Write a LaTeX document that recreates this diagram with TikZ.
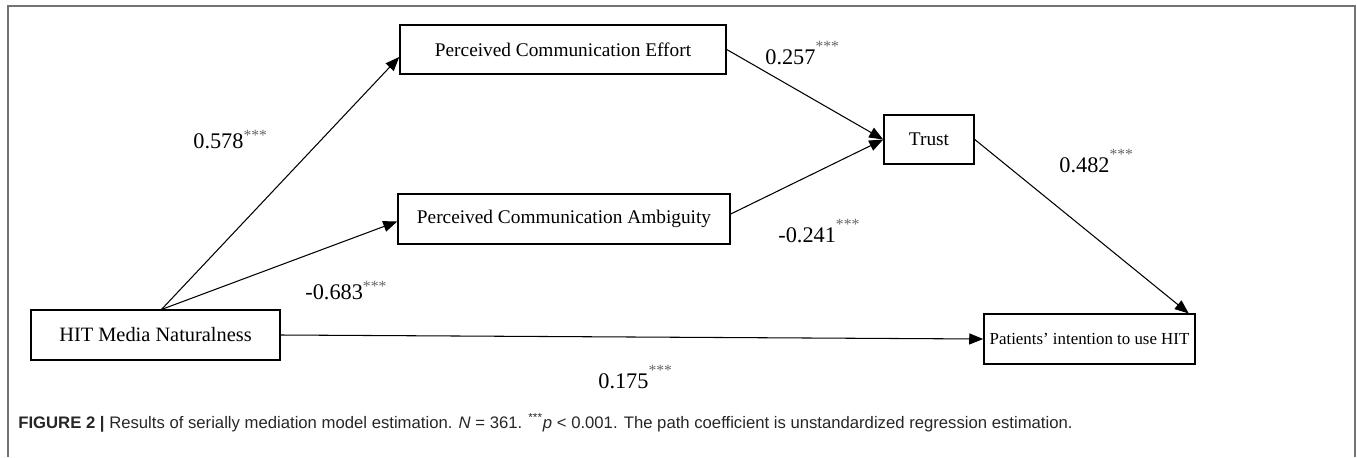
\documentclass[tikz,border=0pt]{standalone}
\usepackage{amsmath}
\usepackage{xcolor}
\usepackage{fontspec}
\setmainfont{Liberation Serif}
\newfontfamily\capfont{Liberation Sans}
\usepackage{tikz}
\usetikzlibrary{arrows.meta,positioning,calc}

\newcommand{\stars}[1][0pt]{\raisebox{#1}{\textsuperscript{\color{black!60}***}}}

\begin{document}
\begin{tikzpicture}[
    x=0.02cm, y=-0.02cm,
    box/.style={rectangle, draw=black, line width=0.9pt, align=center, inner sep=0pt, minimum height=0.99cm, font=\fontsize{11}{13}\selectfont},
    coef/.style={anchor=base west, inner sep=0pt, font=\fontsize{12.7}{14}\selectfont},
    arr/.style={-{Triangle[length=0.28cm,width=0.22cm]}, line width=0.6pt, draw=black},
    frame/.style={draw=black!55, line width=1.1pt}
]
    \useasboundingbox (0,0) rectangle (1357,457);
    \draw [frame] (8,457) -- (8,6) -- (1355,6) -- (1355,457);

    % boxes
    \node [box, minimum width=6.52cm] (eff) at (563,49.5) {Perceived Communication Effort};
    \node [box, minimum width=6.64cm] (amb) at (564,219) {Perceived Communication Ambiguity};
    \node [box, minimum width=1.80cm] (trust) at (929,139.5) {Trust};
    \node [box, minimum width=4.98cm, font=\fontsize{11.6}{13}\selectfont] (hit) at (155.5,335) {HIT Media Naturalness};
    \node [box, minimum width=4.22cm, font=\fontsize{9.6}{12}\selectfont] (pat) at (1089.5,339) {Patients' intention to use HIT};

    % paths
    \draw [arr] ([xshift=0.12cm]hit.north) -- ([yshift=-0.15cm]eff.west);
    \draw [arr] ([xshift=0.12cm]hit.north) -- ([yshift=-0.05cm]amb.west);
    \draw [arr] (eff.east) -- (trust.west);
    \draw [arr] ([yshift=0.1cm]amb.east) -- (trust.west);
    \draw [arr] (trust.east) -- ([xshift=-0.14cm]pat.north east);
    \draw [arr] (hit.east) -- (pat.west);

    % coefficients
    \node [coef] (c1) at (193,148) {0.578\stars};
    \node [coef] (c2) at (305,299) {-0.683\stars};
    \node [coef] (c3) at (765,64) {0.257\stars[3pt]};
    \node [coef] (c4) at (778,242) {-0.241\stars[3pt]};
    \node [coef] (c5) at (1059,172) {0.482\stars[3pt]};
    \node [coef] (c6) at (598,388) {0.175\stars[3pt]};

    % caption
    \node [anchor=base west, inner sep=0pt, text=black!85, font=\capfont\fontsize{9.5}{11}\selectfont] (cap) at (18,428)
      {\textbf{FIGURE 2 |} Results of serially mediation model estimation. \textit{N} = 361. \textsuperscript{***}\textit{p} < 0.001. The path coefficient is unstandardized regression estimation.};
\end{tikzpicture}
\end{document}
